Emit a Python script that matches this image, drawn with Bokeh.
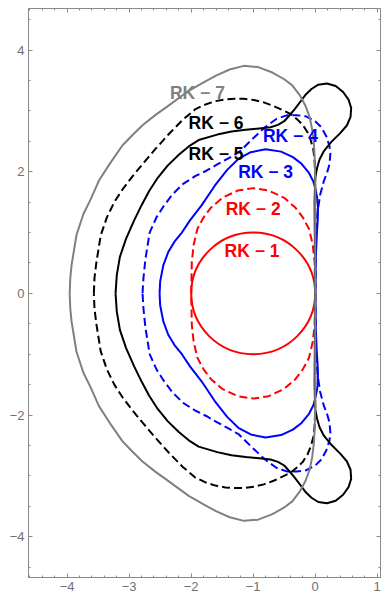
from bokeh.plotting import figure
from bokeh.models import Range1d, LinearAxis, SingleIntervalTicker, CustomJSTickFormatter, ColumnDataSource
from bokeh.core.properties import value
from bokeh.embed import file_html
from bokeh.resources import INLINE

# ---------------- data (upper halves; curves are mirror-symmetric) ----------------
rk1_center_x = [-1.0]
rk1_center_y = [0.0]
rk1_diameter = [2.0]

rk2_x = [-2.00, -1.99, -1.96, -1.90, -1.80, -1.68, -1.50, -1.25, -1.00, -0.75, -0.50, -0.32, -0.20, -0.10, -0.04, -0.01, 0.00]
rk2_y = [0.00, 0.52, 0.80, 1.06, 1.25, 1.41, 1.57, 1.69, 1.73, 1.69, 1.57, 1.41, 1.25, 1.06, 0.80, 0.52, 0.00]

rk3_x = [-2.51, -2.50, -2.45, -2.37, -2.27, -2.15, -2.02, -1.83, -1.62, -1.42, -1.24, -1.04, -0.80, -0.55, -0.36, -0.22, -0.10, -0.03, 0.00, 0.03, 0.045, 0.04, 0.025, 0.01, 0.00]
rk3_y = [0.00, 0.20, 0.46, 0.68, 0.85, 1.00, 1.20, 1.45, 1.77, 2.03, 2.21, 2.32, 2.37, 2.33, 2.24, 2.13, 1.98, 1.84, 1.73, 1.58, 1.42, 1.20, 0.95, 0.60, 0.00]

rk4_x = [-2.785, -2.77, -2.74, -2.67, -2.56, -2.44, -2.30, -2.13, -1.93, -1.75, -1.58, -1.40, -1.23, -1.00, -0.80, -0.62, -0.45, -0.30, -0.15, 0.00, 0.10, 0.18, 0.23, 0.245, 0.23, 0.19, 0.14, 0.08, 0.04, 0.015, 0.00]
rk4_y = [0.00, 0.25, 0.55, 1.00, 1.25, 1.44, 1.63, 1.80, 1.93, 2.02, 2.12, 2.22, 2.32, 2.55, 2.74, 2.87, 2.93, 2.93, 2.91, 2.83, 2.73, 2.58, 2.42, 2.30, 2.12, 1.98, 1.85, 1.62, 1.35, 1.00, 0.00]

rk5_x = [-3.22, -3.20, -3.15, -3.05, -2.92, -2.80, -2.68, -2.54, -2.38, -2.20, -2.02, -1.88, -1.58, -1.35, -1.12, -0.90, -0.72, -0.60, -0.50, -0.42, -0.33, -0.24, -0.16, -0.06, 0.05, 0.19, 0.33, 0.45, 0.54, 0.58, 0.57, 0.51, 0.40, 0.26, 0.14, 0.07, 0.03, 0.00, -0.01, -0.005, 0.00]
rk5_y = [0.00, 0.30, 0.60, 0.90, 1.20, 1.45, 1.68, 1.90, 2.10, 2.28, 2.43, 2.52, 2.61, 2.66, 2.69, 2.71, 2.73, 2.77, 2.83, 2.92, 3.03, 3.15, 3.26, 3.36, 3.43, 3.45, 3.41, 3.31, 3.18, 3.05, 2.90, 2.76, 2.63, 2.49, 2.34, 2.20, 2.06, 1.90, 1.50, 0.80, 0.00]

rk6_x = [-3.57, -3.56, -3.53, -3.46, -3.36, -3.24, -3.10, -2.95, -2.78, -2.58, -2.36, -2.14, -1.93, -1.76, -1.61, -1.45, -1.30, -1.15, -0.99, -0.83, -0.67, -0.52, -0.40, -0.29, -0.20, -0.12, -0.07, -0.03, -0.01, 0.00, 0.00]
rk6_y = [0.00, 0.25, 0.50, 0.95, 1.25, 1.50, 1.72, 1.92, 2.13, 2.37, 2.62, 2.85, 3.03, 3.11, 3.16, 3.19, 3.20, 3.20, 3.18, 3.14, 3.08, 3.01, 2.95, 2.86, 2.77, 2.64, 2.51, 2.36, 2.20, 1.90, 0.00]

rk7_x = [-3.96, -3.95, -3.93, -3.85, -3.74, -3.62, -3.49, -3.32, -3.11, -2.95, -2.79, -2.58, -2.36, -2.04, -1.80, -1.60, -1.38, -1.15, -0.92, -0.69, -0.50, -0.37, -0.25, -0.16, -0.09, -0.05, -0.02, -0.01, 0.00, 0.00]
rk7_y = [0.00, 0.25, 0.46, 0.96, 1.30, 1.55, 1.85, 2.12, 2.43, 2.60, 2.76, 2.93, 3.09, 3.33, 3.47, 3.58, 3.68, 3.74, 3.72, 3.63, 3.52, 3.42, 3.26, 3.09, 2.90, 2.70, 2.45, 2.26, 1.90, 0.00]

label_text = ["RK \u2212 1", "RK \u2212 2", "RK \u2212 3", "RK \u2212 4", "RK \u2212 5", "RK \u2212 6", "RK \u2212 7"]
label_x = [-1.02, -1.00, -0.80, -0.40, -1.60, -1.60, -1.90]
label_y = [0.69, 1.39, 1.99, 2.59, 2.29, 2.80, 3.30]

# ---------------- styles ----------------
RED, BLUE, BLACK, GRAY = "#ff0000", "#0000ff", "#000000", "#808080"
label_colors = [RED, RED, BLUE, BLUE, BLACK, BLACK, GRAY]
AXIS_COLOR = "#8a8a8a"
TICK_LABEL_COLOR = "#707070"


def closed(xu, yu):
    xs = list(xu) + list(xu[-2::-1])
    ys = list(yu) + [-v for v in yu[-2::-1]]
    return xs, ys


p = figure(width=383, height=597, output_backend="svg", toolbar_location=None,
           x_range=Range1d(-4.624, 1.053), y_range=Range1d(-4.671, 4.683),
           x_axis_location=None, y_axis_location=None,
           min_border_left=28, min_border_right=3, min_border_top=8, min_border_bottom=20)
p.grid.visible = False
p.outline_line_color = AXIS_COLOR
p.background_fill_color = "white"
p.border_fill_color = "white"

fmt = CustomJSTickFormatter(code="return tick < 0 ? '\\u2212' + Math.abs(tick) : tick.toString();")
blank_fmt = CustomJSTickFormatter(code="return '';")


def style_axis(ax, show_labels):
    ax.axis_line_color = AXIS_COLOR
    ax.major_tick_line_color = AXIS_COLOR
    ax.minor_tick_line_color = AXIS_COLOR
    ax.major_tick_in = 4
    ax.major_tick_out = 0
    ax.minor_tick_in = 2
    ax.minor_tick_out = 0
    if show_labels:
        ax.formatter = fmt
        ax.major_label_text_color = TICK_LABEL_COLOR
        ax.major_label_text_font = "Liberation Sans"
        ax.major_label_text_font_size = "13px"
        ax.major_label_standoff = 4
    else:
        ax.formatter = blank_fmt
        ax.major_label_text_font_size = "1px"
        ax.major_label_standoff = 0


xb = LinearAxis(ticker=SingleIntervalTicker(interval=1, num_minor_ticks=5))
style_axis(xb, True)
p.add_layout(xb, "below")
xt = LinearAxis(ticker=SingleIntervalTicker(interval=1, num_minor_ticks=5))
style_axis(xt, False)
p.add_layout(xt, "above")
yl = LinearAxis(ticker=SingleIntervalTicker(interval=2, num_minor_ticks=4))
style_axis(yl, True)
p.add_layout(yl, "left")
yr = LinearAxis(ticker=SingleIntervalTicker(interval=2, num_minor_ticks=4))
style_axis(yr, False)
p.add_layout(yr, "right")

LW = 2
DASH = "8 4"

p.ellipse(x=rk1_center_x, y=rk1_center_y, width=rk1_diameter, height=rk1_diameter,
          fill_color=None, line_color=RED, line_width=LW)

for xu, yu, col, dash in [(rk2_x, rk2_y, RED, DASH), (rk3_x, rk3_y, BLUE, "solid"),
                          (rk4_x, rk4_y, BLUE, DASH), (rk5_x, rk5_y, BLACK, "solid"),
                          (rk6_x, rk6_y, BLACK, DASH), (rk7_x, rk7_y, GRAY, "solid")]:
    xs, ys = closed(xu, yu)
    p.line(xs, ys, line_color=col, line_width=LW, line_dash=dash, line_join="round")

src = ColumnDataSource(dict(x=label_x, y=label_y, text=label_text, color=label_colors))
p.text(x="x", y="y", text="text", source=src, text_color="color",
       text_font=value("Liberation Sans"), text_font_style="bold", text_font_size="17.5px",
       text_align="center", text_baseline="middle")

open("out.html", "w").write(file_html(p, INLINE))
